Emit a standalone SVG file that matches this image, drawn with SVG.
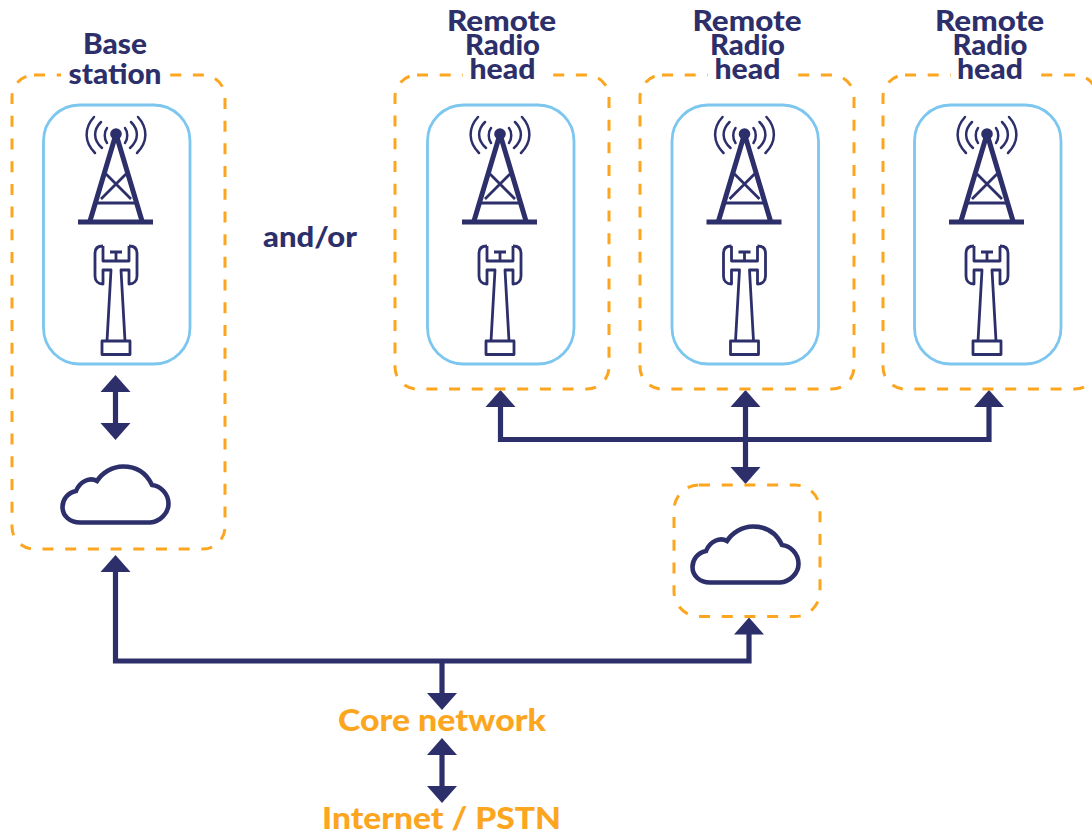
<svg xmlns="http://www.w3.org/2000/svg" width="1092" height="836" viewBox="0 0 1092 836">
<style>
.dash{fill:none;stroke:#fca61f;stroke-width:3;stroke-dasharray:11 11.700}
.box{fill:#fff;stroke:#7cc6ef;stroke-width:2.800}
.ic{fill:none;stroke:#2d2f6b;stroke-width:2.800;stroke-linejoin:round}
.leg{fill:none;stroke:#2d2f6b;stroke-width:5}
.cl{fill:none;stroke:#2d2f6b;stroke-width:4.600}
.w{fill:none;stroke:#2d2f6b;stroke-width:2.500;stroke-linecap:round}
.line{fill:none;stroke:#2d2f6b;stroke-width:5.200}
.head{fill:#2d2f6b}
text{font-family:"Lato","Liberation Sans",sans-serif;font-weight:900;text-anchor:middle}
.n{fill:#2d2f6b;font-size:28px}
.o{fill:#fca61f;font-size:30px}
.mask{fill:#fff}
</style>
<defs>
<g id="radio">
<rect class="box" x="43.500" y="105" width="146.500" height="259" rx="36"/>
<path class="leg" d="M116 134L90 221M116 134L142 221"/>
<path class="ic" d="M96 203H136M106 174L131 199M126 174L101 199"/>
<path d="M78 219.500H153V224.500H78Z" class="head"/>
<circle cx="116" cy="134" r="5.800" class="head"/>
<path class="w" d="M107 128C104 132 104 139 107 143M125 128C128 132 128 139 125 143M101 122C93 130 93 140 102 148M131 122C139 130 139 140 130 148M94 117C84 128 84 142 95 153M138 117C148 128 148 142 137 153"/>
<path class="ic" d="M103 246C97 246 95 249 95 253V276C95 281 98 284 103 284V270H111L107 341M129 246C135 246 137 249 137 253V276C137 281 134 284 129 284V270H121L125 341M103 246V261H129V246M110 252H122M116 252V261"/>
<rect class="ic" x="102" y="341" width="28" height="13.500"/>
</g>
<path id="cloud" d="M80 522.500H150C160 522 168.500 513 168.500 504C168.500 493 160 486 152 485C146 472 135 466.500 123 466.500C112 466.500 102 473 97 481C90 477 80 481 76 491C67 493 62.500 500 62.500 507C62.500 516 70 522.500 80 522.500Z" class="cl"/>
<path id="up" class="head" d="M0 0L15 17H-15Z"/>
<path id="down" class="head" d="M0 0L15 -17H-15Z"/>
</defs>
<g id="connectors">
<path class="line" d="M115.500 390V425"/>
<path class="line" d="M115.500 570V661H749V632"/>
<path class="line" d="M442 661V695"/>
<path class="line" d="M442 753V788"/>
<path class="line" d="M500.500 405V439.500H989V405"/>
<path class="line" d="M745.500 405V469"/>
<use href="#up" x="115.500" y="375"/><use href="#down" x="115.500" y="440"/>
<use href="#up" x="115.500" y="555"/><use href="#up" x="749" y="617.500"/>
<use href="#down" x="442" y="710"/><use href="#up" x="442" y="738"/><use href="#down" x="442" y="803"/>
<use href="#up" x="500.500" y="390"/><use href="#up" x="745.500" y="390"/><use href="#up" x="989" y="390"/><use href="#down" x="745.500" y="484"/>
</g>
<g id="base-station">
<rect class="dash" x="12" y="75" width="213" height="474" rx="22"/>
<rect class="mask" x="61" y="65" width="108" height="20"/>
<use href="#radio"/>
<use href="#cloud"/>
<text class="n" x="115" y="54" textLength="64" lengthAdjust="spacingAndGlyphs">Base</text>
<text class="n" x="115" y="84" textLength="93" lengthAdjust="spacingAndGlyphs">station</text>
</g>
<g id="rrh-1">
<rect class="dash" x="395" y="75" width="214" height="314" rx="22"/>
<rect class="mask" x="463" y="65" width="80" height="20"/>
<use href="#radio" x="384"/>
<text class="n" x="501.500" y="31" textLength="109" lengthAdjust="spacingAndGlyphs">Remote</text>
<text class="n" x="502.500" y="55" textLength="75" lengthAdjust="spacingAndGlyphs">Radio</text>
<text class="n" x="502.500" y="79" textLength="66" lengthAdjust="spacingAndGlyphs">head</text>
</g>
<g id="rrh-2">
<rect class="dash" x="640" y="75" width="214" height="314" rx="22"/>
<rect class="mask" x="708" y="65" width="80" height="20"/>
<use href="#radio" x="628.500"/>
<text class="n" x="747" y="31" textLength="109" lengthAdjust="spacingAndGlyphs">Remote</text>
<text class="n" x="747.500" y="55" textLength="75" lengthAdjust="spacingAndGlyphs">Radio</text>
<text class="n" x="747.500" y="79" textLength="66" lengthAdjust="spacingAndGlyphs">head</text>
</g>
<g id="rrh-3">
<rect class="dash" x="883" y="75" width="214" height="314" rx="22"/>
<rect class="mask" x="951" y="65" width="81" height="20"/>
<use href="#radio" x="871"/>
<text class="n" x="989.500" y="31" textLength="109" lengthAdjust="spacingAndGlyphs">Remote</text>
<text class="n" x="990" y="55" textLength="75" lengthAdjust="spacingAndGlyphs">Radio</text>
<text class="n" x="990" y="79" textLength="66" lengthAdjust="spacingAndGlyphs">head</text>
</g>
<g id="cloud-hub">
<rect class="dash" x="674" y="485" width="146" height="131.500" rx="25"/>
<use href="#cloud" x="630" y="60"/>
</g>
<g id="and-or"><text class="n" x="310" y="247" textLength="94" lengthAdjust="spacingAndGlyphs">and/or</text></g>
<g id="core-network"><text class="o" x="442" y="731" textLength="208" lengthAdjust="spacingAndGlyphs">Core network</text></g>
<g id="internet-pstn"><text class="o" x="441.500" y="829" textLength="239" lengthAdjust="spacingAndGlyphs">Internet / PSTN</text></g>
</svg>
